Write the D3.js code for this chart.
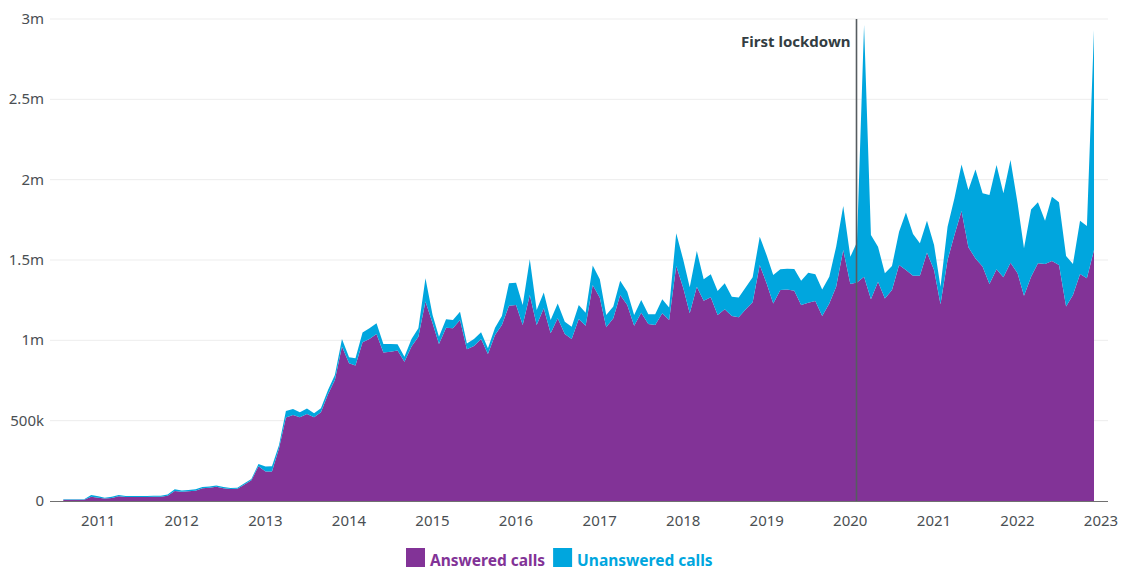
<!DOCTYPE html>
<html>
<head>
<meta charset="utf-8">
<script src="https://cdn.jsdelivr.net/npm/d3@7"></script>
<style>
  body { margin: 0; background: #fff; }
  svg { display: block; font-family: "Noto Sans", sans-serif; }
</style>
</head>
<body>
<svg width="1126" height="570"></svg>
<script>
// monthly calls, in thousands, Sep 2010 - Jan 2023
var firstMonth = new Date(2010, 8, 1);
var answered = [
  8, 8, 8, 8, 27, 21, 15, 19, 29, 25, 25, 25, 25, 26, 26, 33, 62, 58, 60, 64,
  79, 83, 89, 79, 75, 77, 102, 129, 216, 183, 183, 328, 519, 535, 521, 541, 521, 552, 664, 753,
  961, 857, 844, 988, 1008, 1039, 925, 929, 936, 867, 961, 1023, 1241, 1106, 977, 1079, 1075, 1127, 944, 965,
  1008, 915, 1033, 1095, 1216, 1220, 1095, 1282, 1095, 1199, 1044, 1137, 1039, 1008, 1133, 1091, 1344, 1265, 1081, 1137,
  1282, 1220, 1091, 1172, 1102, 1095, 1168, 1127, 1463, 1324, 1168, 1334, 1247, 1268, 1158, 1193, 1151, 1143, 1193, 1237,
  1469, 1351, 1230, 1313, 1317, 1309, 1220, 1234, 1245, 1151, 1230, 1334, 1562, 1350, 1360, 1396, 1255, 1365, 1261, 1313,
  1469, 1438, 1402, 1402, 1546, 1438, 1224, 1500, 1656, 1805, 1579, 1510, 1459, 1351, 1442, 1392, 1483, 1417, 1278, 1396,
  1479, 1475, 1494, 1469, 1210, 1282, 1413, 1386, 1562
];
var unanswered = [
  3, 3, 3, 3, 10, 8, 6, 8, 8, 6, 6, 6, 6, 7, 7, 8, 11, 8, 8, 9,
  8, 8, 8, 8, 6, 6, 8, 8, 14, 31, 33, 21, 41, 38, 31, 34, 25, 25, 27, 31,
  47, 37, 44, 60, 67, 67, 52, 48, 39, 31, 47, 52, 145, 52, 46, 52, 52, 51, 37, 43,
  42, 35, 46, 56, 139, 139, 125, 222, 94, 98, 83, 93, 77, 77, 87, 81, 122, 115, 77, 73,
  89, 83, 67, 79, 60, 67, 87, 78, 203, 176, 162, 222, 133, 143, 149, 162, 121, 123, 137, 155,
  176, 176, 177, 129, 129, 135, 151, 187, 166, 166, 166, 249, 274, 170, 250, 1567, 401, 218, 156, 150,
  207, 357, 260, 202, 199, 155, 110, 207, 228, 290, 357, 554, 456, 554, 649, 523, 639, 436, 295, 419,
  380, 270, 400, 390, 315, 193, 332, 326, 1370
];
var yTicks = [0, 500, 1000, 1500, 2000, 2500, 3000];
var yTickLabels = ["0", "500k", "1m", "1.5m", "2m", "2.5m", "3m"];
var yearTicks = [2011, 2012, 2013, 2014, 2015, 2016, 2017, 2018, 2019, 2020, 2021, 2022, 2023];
var lockdownDate = new Date(2020, 2, 1);
var seriesNames = ["Answered calls", "Unanswered calls"];
var colors = ["#823397", "#00a6de"];

var svg = d3.select("svg");

var rows = answered.map(function(a, i) {
  return { date: d3.timeMonth.offset(firstMonth, i), answered: a, unanswered: unanswered[i] };
});

var x = d3.scaleTime()
    .domain([firstMonth, d3.timeMonth.offset(firstMonth, answered.length - 1)])
    .range([63.3, 1094]);
var y = d3.scaleLinear().domain([0, 3000]).range([501, 19]);

// grid + y labels
var grid = svg.append("g");
grid.selectAll("line")
  .data(yTicks.slice(1))
  .enter().append("line")
    .attr("x1", 50).attr("x2", 1108)
    .attr("y1", function(d) { return y(d); })
    .attr("y2", function(d) { return y(d); })
    .attr("stroke", "#ededed")
    .attr("stroke-width", 1);

svg.append("g").selectAll("text")
  .data(yTicks)
  .enter().append("text")
    .attr("x", 44)
    .attr("y", function(d) { return y(d) + 5; })
    .attr("text-anchor", "end")
    .attr("font-size", 15)
    .attr("fill", "#4a4f53")
    .text(function(d, i) { return yTickLabels[i]; });

var stack = d3.stack().keys(["answered", "unanswered"]);
var layers = stack(rows);

var area = d3.area()
    .x(function(d) { return x(d.data.date); })
    .y0(function(d) { return y(d[0]); })
    .y1(function(d) { return y(d[1]); });

svg.append("g").selectAll("path")
  .data(layers)
  .enter().append("path")
    .attr("d", area)
    .attr("fill", function(d, i) { return colors[i]; });

// baseline
svg.append("line")
    .attr("x1", 50).attr("x2", 1108)
    .attr("y1", y(0) + 0.5).attr("y2", y(0) + 0.5)
    .attr("stroke", "#707070")
    .attr("stroke-width", 1.2);

// year labels
svg.append("g").selectAll("text")
  .data(yearTicks)
  .enter().append("text")
    .attr("x", function(d) { return x(new Date(d, 0, 1)) + 7; })
    .attr("y", 526)
    .attr("text-anchor", "middle")
    .attr("font-size", 15)
    .attr("fill", "#4a4f53")
    .text(function(d) { return d; });

// lockdown marker
var lx = Math.round(x(lockdownDate) - 1) + 0.5;
svg.append("line")
    .attr("x1", lx).attr("x2", lx)
    .attr("y1", 19).attr("y2", 501)
    .attr("stroke", "#565c60")
    .attr("stroke-width", 1.6);
svg.append("text")
    .attr("x", lx - 6)
    .attr("y", 47)
    .attr("text-anchor", "end")
    .attr("font-size", 15)
    .attr("font-weight", "bold")
    .attr("fill", "#333d42")
    .text("First lockdown");

// legend
var legend = svg.append("g");
var lxPos = 406;
seriesNames.forEach(function(name, i) {
  legend.append("rect")
      .attr("x", lxPos).attr("y", 548)
      .attr("width", 19).attr("height", 19)
      .attr("fill", colors[i]);
  var t = legend.append("text")
      .attr("x", lxPos + 24)
      .attr("y", 566)
      .attr("font-size", 15.5)
      .attr("font-weight", "bold")
      .attr("fill", colors[i])
      .text(name);
  lxPos += 24 + t.node().getComputedTextLength() + 8;
});
</script>
</body>
</html>
